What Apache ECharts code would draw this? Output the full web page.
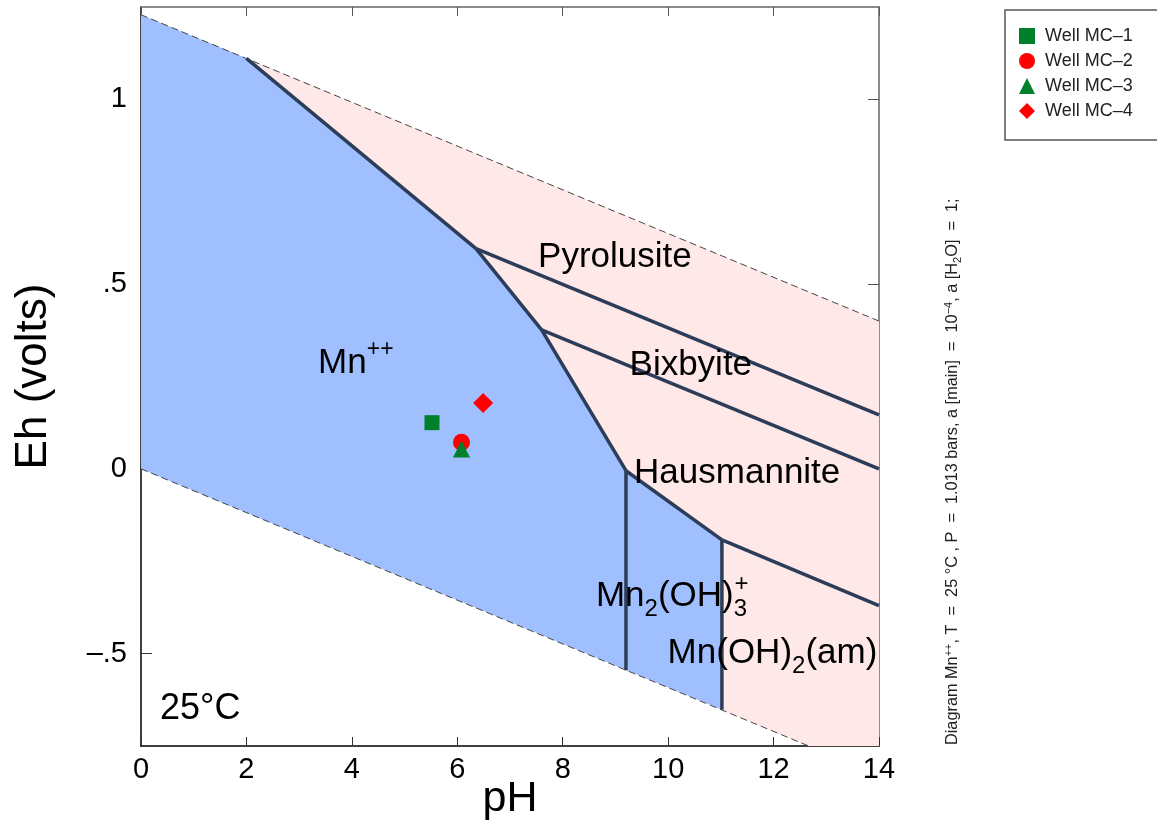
<!DOCTYPE html>
<html>
<head>
<meta charset="utf-8">
<title>Mn Eh-pH diagram</title>
<script src="https://cdn.jsdelivr.net/npm/echarts@6.0.0/dist/echarts.min.js"></script>
<style>
  html, body { margin: 0; padding: 0; background: #fff; }
  #chart { width: 1157px; height: 828px; }
</style>
</head>
<body>
<div id="chart"></div>
<script>
// axis ticks
const phTickStep = 2;
const ehTickValues = [-0.5, 0, 0.5, 1];
const ehTickLabels = ['\u2013.5', '0', '.5', '1'];

// water stability limits (dashed)
const waterUpper = [[0, 1.229], [14, 0.400]];
const waterLower = [[0, 0], [14, -0.829]];

// predominance fields
const aqueousField = [[0, 1.229], [2.0, 1.111], [6.355, 0.596], [7.6, 0.376], [9.2, -0.005],
  [11.02, -0.192], [11.02, -0.652], [0, 0]];
const mineralField = [[2.0, 1.111], [14, 0.400], [14, -0.829], [11.02, -0.652], [11.02, -0.192],
  [9.2, -0.005], [7.6, 0.376], [6.355, 0.596]];

// field boundaries
const mnPyrolusite = [[2.0, 1.111], [6.355, 0.596]];
const mnBixbyite = [[6.355, 0.596], [7.6, 0.376]];
const mnHausmannite = [[7.6, 0.376], [9.2, -0.005]];
const pyrolusiteBixbyite = [[6.355, 0.596], [14, 0.146]];
const bixbyiteHausmannite = [[7.6, 0.376], [14, 0.0]];
const hausmanniteMn2oh3 = [[9.2, -0.005], [11.02, -0.192]];
const hausmanniteMnoh2 = [[11.02, -0.192], [14, -0.370]];
const mnMn2oh3 = [[9.2, -0.005], [9.2, -0.545]];
const mn2oh3Mnoh2 = [[11.02, -0.192], [11.02, -0.652]];

// wells
const wellNames = ['Well MC\u20131', 'Well MC\u20132', 'Well MC\u20133', 'Well MC\u20134'];
const wellPH = [5.52, 6.08, 6.08, 6.49];
const wellEh = [0.125, 0.072, 0.054, 0.178];

// field labels
const fieldLabels = ['Pyrolusite', 'Bixbyite', 'Hausmannite', '{m|Mn}{p|++}',
  '{m|Mn}{b|2}{m|(OH)}{b|3}', '+', '{m|Mn(OH)}{b|2}{m|(am)}', '25\u00b0C'];
const fieldLabelPH = [8.99, 10.43, 11.31, 3.36, 8.63, 11.39, 9.99, 0.36];
const fieldLabelEh = [0.573, 0.281, -0.011, 0.285, -0.345, -0.312, -0.498, -0.651];

const FONT = "'Liberation Sans', Arial, sans-serif";
const labelAlign = ['center', 'center', 'center', 'left', 'left', 'center', 'left', 'left'];
const labelSize = [35, 35, 35, 35, 35, 24, 35, 36];
const wellSymbols = ['rect', 'circle', 'triangle', 'diamond'];
const wellColors = ['#00802b', '#ff0000', '#00802b', '#ff0000'];
const wellSizes = [15, 17, 17, 20];

const chart = echarts.init(document.getElementById('chart'));

function fieldSeries(points, color) {
  return {
    type: 'custom', clip: true, silent: true, z: 1, data: [0],
    renderItem: function (params, api) {
      return {
        type: 'polygon',
        shape: { points: points.map(function (p) { return api.coord(p); }) },
        style: { fill: color }
      };
    }
  };
}

function lineSeries(points, dashed) {
  return {
    type: 'line', data: points, showSymbol: false, silent: true, z: dashed ? 2 : 3,
    lineStyle: dashed ? { color: '#444', width: 1, type: [7, 4] } : { color: '#2b3d58', width: 3.5 }
  };
}

const series = [
  fieldSeries(aqueousField, '#a0bfff'),
  fieldSeries(mineralField, '#ffe8e8'),
  lineSeries(waterUpper, true),
  lineSeries(waterLower, true),
  lineSeries(mnPyrolusite),
  lineSeries(mnBixbyite),
  lineSeries(mnHausmannite),
  lineSeries(pyrolusiteBixbyite),
  lineSeries(bixbyiteHausmannite),
  lineSeries(hausmanniteMn2oh3),
  lineSeries(hausmanniteMnoh2),
  lineSeries(mnMn2oh3),
  lineSeries(mn2oh3Mnoh2)
];

wellNames.forEach(function (name, i) {
  series.push({
    name: name, type: 'scatter', z: 5,
    symbol: wellSymbols[i], symbolSize: wellSizes[i],
    itemStyle: { color: wellColors[i], opacity: 1 },
    data: [[wellPH[i], wellEh[i]]]
  });
});

series.push({
  type: 'custom', silent: true, z: 6, clip: false,
  data: fieldLabels.map(function (t, i) { return [fieldLabelPH[i], fieldLabelEh[i], i]; }),
  renderItem: function (params, api) {
    const i = api.value(2);
    const pt = api.coord([api.value(0), api.value(1)]);
    const s = labelSize[i];
    return {
      type: 'text', x: pt[0], y: pt[1],
      style: {
        text: fieldLabels[i], fill: '#000', fontFamily: FONT, fontSize: s,
        align: labelAlign[i], verticalAlign: 'middle',
        rich: {
          m: { fontSize: s, fontFamily: FONT, fill: '#000' },
          p: { fontSize: 23, fontFamily: FONT, fill: '#000', padding: [0, 0, 28, 0] },
          b: { fontSize: 24, fontFamily: FONT, fill: '#000', padding: [26, 0, 0, 0] }
        }
      }
    };
  }
});

const option = {
  animation: false,
  backgroundColor: '#fff',
  grid: { left: 141, right: 278, top: 7, bottom: 82, outerBoundsMode: 'none', containLabel: false },
  legend: {
    data: wellNames, orient: 'vertical', left: 1005, top: 10,
    padding: [17, 40, 20, 14], itemWidth: 16, itemHeight: 16, itemGap: 7,
    borderColor: '#555', borderWidth: 1.5,
    textStyle: { fontSize: 18, fontFamily: FONT, color: '#222', padding: [0, 0, 0, 5] }
  },
  xAxis: [{
    type: 'value', min: 0, max: 14, interval: phTickStep, position: 'bottom',
    name: 'pH', nameLocation: 'middle', nameGap: 32, nameMoveOverlap: false,
    nameTextStyle: { fontSize: 43, fontFamily: FONT, color: '#000' },
    axisLine: { show: true, onZero: false, lineStyle: { color: '#000', width: 1.5 } },
    axisTick: { show: true, inside: true, length: 9, lineStyle: { color: '#333', width: 1 } },
    axisLabel: { fontSize: 29, fontFamily: FONT, color: '#000', margin: 9 },
    splitLine: { show: false }
  }, {
    type: 'value', min: 0, max: 14, interval: phTickStep, position: 'top',
    axisLine: { show: true, onZero: false, lineStyle: { color: '#666', width: 1.5 } },
    axisTick: { show: true, inside: true, length: 9, lineStyle: { color: '#555', width: 1 } },
    axisLabel: { show: false }, splitLine: { show: false }
  }],
  yAxis: [{
    type: 'value', min: -0.75, max: 1.25, position: 'left',
    name: 'Eh (volts)', nameLocation: 'middle', nameGap: 85, nameMoveOverlap: false,
    nameTextStyle: { fontSize: 44, fontFamily: FONT, color: '#000' },
    axisLine: { show: true, onZero: false, lineStyle: { color: '#000', width: 1.5 } },
    axisTick: { show: true, inside: true, length: 11, customValues: ehTickValues, lineStyle: { color: '#333', width: 1 } },
    axisLabel: {
      fontSize: 29, fontFamily: FONT, color: '#000', margin: 14, customValues: ehTickValues,
      formatter: function (v) { return ehTickLabels[ehTickValues.indexOf(v)]; }
    },
    splitLine: { show: false }
  }, {
    type: 'value', min: -0.75, max: 1.25, position: 'right',
    axisLine: { show: true, onZero: false, lineStyle: { color: '#666', width: 1.5 } },
    axisTick: { show: true, inside: true, length: 11, customValues: ehTickValues, lineStyle: { color: '#555', width: 1 } },
    axisLabel: { show: false }, splitLine: { show: false }
  }],
  graphic: [{
    type: 'text', x: 953, y: 745, rotation: Math.PI / 2, silent: true,
    style: {
      text: 'Diagram Mn{s|++}, T  =  25 \u00b0C , P  =  1.013 bars, a [main]  =  10{s|\u22124}, a [H{d|2}O]  =  1;',
      fontSize: 16.3, fontFamily: FONT, fill: '#222', align: 'left', verticalAlign: 'middle',
      rich: {
        s: { fontSize: 11, fontFamily: FONT, fill: '#222', padding: [0, 0, 9, 0] },
        d: { fontSize: 11, fontFamily: FONT, fill: '#222', padding: [9, 0, 0, 0] }
      }
    }
  }],
  series: series
};

chart.setOption(option);
</script>
</body>
</html>
